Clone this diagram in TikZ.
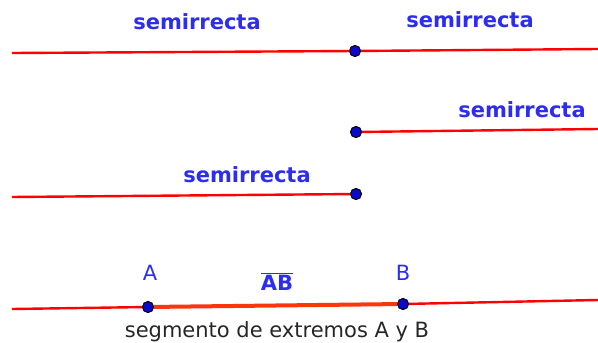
\documentclass[tikz,border=0pt]{standalone}
\usepackage{fontspec}
\setmainfont{DejaVu Sans}
\definecolor{ggblue}{RGB}{45,45,240}
\definecolor{ggpt}{RGB}{10,10,200}
\definecolor{ggseg}{RGB}{250,55,10}
\begin{document}
\begin{tikzpicture}[x=1pt,y=-1pt,font=\fontsize{21}{24}\selectfont,
  ray/.style={draw=red,line width=2.4pt},
  seg/.style={draw=ggseg,line width=4pt},
  pt/.style={circle,draw=black,fill=ggpt,line width=0.8pt,inner sep=0pt,minimum size=11pt},
  lbl/.style={text=ggblue,anchor=base,inner sep=0pt},
  raylbl/.style={lbl,font=\fontsize{21}{24}\selectfont\bfseries}]
\useasboundingbox (0,0) rectangle (598,343);
\coordinate (r1w) at (12,53);
\coordinate (r1e) at (598,49);
\coordinate (r2e) at (598,129);
\coordinate (r3w) at (12,197);
\coordinate (r4w) at (12,309);
\coordinate (r4e) at (598,300);
\node[pt] (O) at (355,51) {};
\node[pt] (P) at (356,132) {};
\node[pt] (Q) at (356,194) {};
\node[pt] (A) at (148,307) {};
\node[pt] (B) at (403,304) {};
\draw[ray] (r1w)--(O.center)--(r1e);
\draw[ray] (P.center)--(r2e);
\draw[ray] (r3w)--(Q.center);
\draw[ray] (r4w)--(A.center);
\draw[ray] (B.center)--(r4e);
\draw[seg] (A.center)--(B.center);
\node[pt] at (O) {};
\node[pt] at (P) {};
\node[pt] at (Q) {};
\node[pt] at (A) {};
\node[pt] at (B) {};
\node[raylbl] (s1) at (197,29) {semirrecta};
\node[raylbl] (s2) at (470,27) {semirrecta};
\node[raylbl] (s3) at (522,117) {semirrecta};
\node[raylbl] (s4) at (247,182) {semirrecta};
\node[lbl] (la) at (150,280) {A};
\node[lbl] (lb) at (403,280) {B};
\node[raylbl] (lab) at (277,290) {$\overline{\mbox{AB}}$};
\node[lbl,text=black!85] (cap) at (277,337) {segmento de extremos A y B};
\end{tikzpicture}
\end{document}
